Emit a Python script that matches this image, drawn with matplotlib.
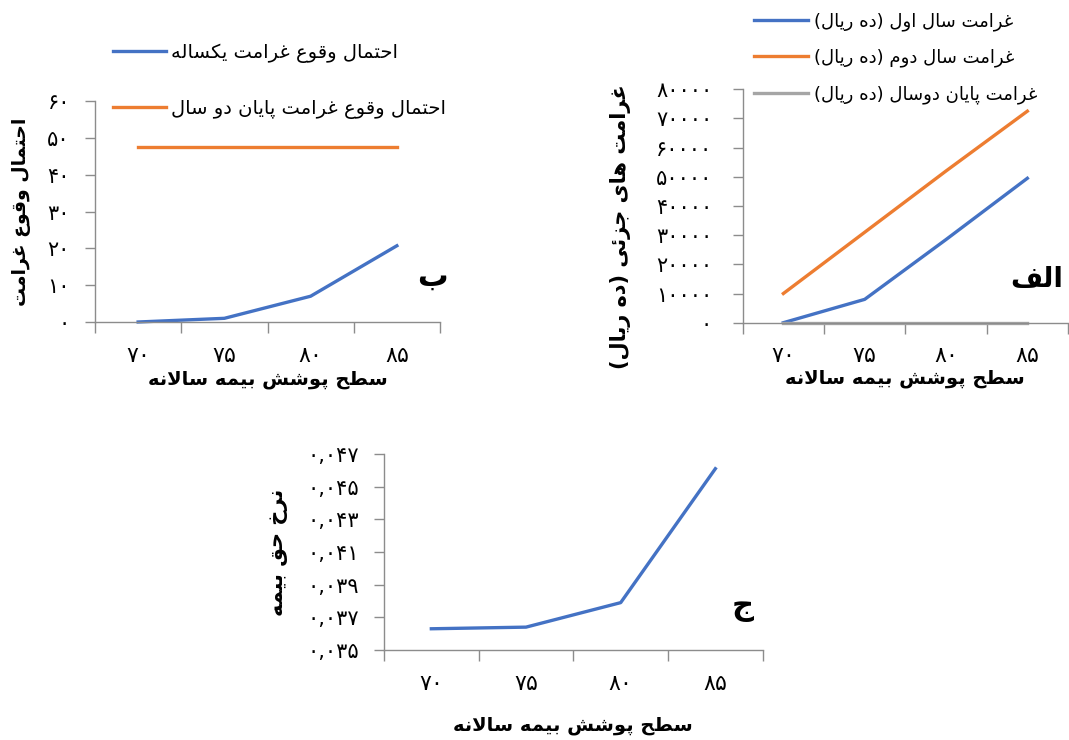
import numpy as np
import matplotlib
matplotlib.use('Agg')
from matplotlib import pyplot as plt

# data
coverage = [70, 75, 80, 85]
prob_one_year = [0.0, 1.0, 7.0, 20.7]
prob_two_year = [47.6, 47.6, 47.6, 47.6]
penalty_first = [0, 8000, 28500, 49500]
penalty_second = [10000, 31000, 52000, 72500]
penalty_end = [0, 0, 0, 0]
premium_rate = [0.0363, 0.0364, 0.0379, 0.0461]

prob_ticks = [0, 10, 20, 30, 40, 50, 60]
penalty_ticks = [0, 10000, 20000, 30000, 40000, 50000, 60000, 70000, 80000]
rate_ticks = [0.035, 0.037, 0.039, 0.041, 0.043, 0.045, 0.047]

BLUE = '#4472C4'
ORANGE = '#ED7D31'
GRAY = '#A5A5A5'
AXIS = '#8C8C8C'

plt.rcParams['font.family'] = ['DejaVu Sans']

# Arabic presentation forms: isolated, final, initial, medial
FORMS = {
    '\u0627': (0xFE8D, 0xFE8E),
    '\u0628': (0xFE8F, 0xFE90, 0xFE91, 0xFE92),
    '\u067E': (0xFB56, 0xFB57, 0xFB58, 0xFB59),
    '\u062A': (0xFE95, 0xFE96, 0xFE97, 0xFE98),
    '\u062C': (0xFE9D, 0xFE9E, 0xFE9F, 0xFEA0),
    '\u062D': (0xFEA1, 0xFEA2, 0xFEA3, 0xFEA4),
    '\u062E': (0xFEA5, 0xFEA6, 0xFEA7, 0xFEA8),
    '\u062F': (0xFEA9, 0xFEAA),
    '\u0631': (0xFEAD, 0xFEAE),
    '\u0632': (0xFEAF, 0xFEB0),
    '\u0633': (0xFEB1, 0xFEB2, 0xFEB3, 0xFEB4),
    '\u0634': (0xFEB5, 0xFEB6, 0xFEB7, 0xFEB8),
    '\u0637': (0xFEC1, 0xFEC2, 0xFEC3, 0xFEC4),
    '\u0639': (0xFEC9, 0xFECA, 0xFECB, 0xFECC),
    '\u063A': (0xFECD, 0xFECE, 0xFECF, 0xFED0),
    '\u0641': (0xFED1, 0xFED2, 0xFED3, 0xFED4),
    '\u0642': (0xFED5, 0xFED6, 0xFED7, 0xFED8),
    '\u06A9': (0xFB8E, 0xFB8F, 0xFB90, 0xFB91),
    '\u0644': (0xFEDD, 0xFEDE, 0xFEDF, 0xFEE0),
    '\u0645': (0xFEE1, 0xFEE2, 0xFEE3, 0xFEE4),
    '\u0646': (0xFEE5, 0xFEE6, 0xFEE7, 0xFEE8),
    '\u0647': (0xFEE9, 0xFEEA, 0xFEEB, 0xFEEC),
    '\u0648': (0xFEED, 0xFEEE),
    '\u06CC': (0xFBFC, 0xFBFD, 0xFBFE, 0xFBFF),
    '\u0626': (0xFE89, 0xFE8A, 0xFE8B, 0xFE8C),
}


def fa(text):
    # shape persian letters and put them in visual (right to left) order
    out = []
    prev_joins = False
    i = 0
    while i < len(text):
        ch = text[i]
        forms = FORMS.get(ch)
        if forms is None:
            out.append(ch)
            prev_joins = False
            i += 1
            continue
        if ch == '\u0644' and i + 1 < len(text) and text[i + 1] == '\u0627':
            out.append('\uFEFC' if prev_joins else '\uFEFB')
            prev_joins = False
            i += 2
            continue
        nxt = text[i + 1] if i + 1 < len(text) else ''
        joins_next = len(forms) == 4 and nxt in FORMS
        if prev_joins and joins_next:
            g = forms[3]
        elif prev_joins:
            g = forms[1]
        elif joins_next:
            g = forms[2]
        else:
            g = forms[0]
        out.append(chr(g))
        prev_joins = joins_next
        i += 1
    return ''.join(reversed(out)).translate(str.maketrans('()', ')('))


def fa_num(s):
    return str(s).translate(str.maketrans('0123456789.', '۰۱۲۳۴۵۶۷۸۹,'))


W, H = 1069, 740
fig = plt.figure(figsize=(W / 100, H / 100), dpi=100)


def px_axes(left, top, right, bottom):
    return fig.add_axes([left / W, 1 - bottom / H, (right - left) / W, (bottom - top) / H])


x = np.arange(len(coverage))
x_title = fa('سطح پوشش بیمه سالانه')


def style(ax, ylim, yticks, ylabels, ypad, ysize):
    ax.set_xlim(-0.5, len(coverage) - 0.5)
    ax.set_ylim(*ylim)
    ax.set_xticks(x)
    ax.set_xticklabels([fa_num(c) for c in coverage])
    ax.set_xticks(np.arange(-0.5, len(coverage)), minor=True)
    ax.tick_params(axis='x', which='major', length=0, pad=17, labelsize=16)
    ax.tick_params(axis='x', which='minor', length=8, width=1, color=AXIS)
    ax.set_yticks(yticks)
    ax.set_yticklabels(ylabels)
    ax.tick_params(axis='y', length=7, width=1, color=AXIS, labelsize=ysize, pad=ypad)
    for s in ['top', 'right']:
        ax.spines[s].set_visible(False)
    for s in ['left', 'bottom']:
        ax.spines[s].set_color(AXIS)
        ax.spines[s].set_linewidth(1)


# panel b (top left)
ax_b = px_axes(95, 101, 440, 322)
ax_b.plot(x, prob_one_year, color=BLUE, lw=2.4, label=fa('احتمال وقوع غرامت یکساله'), clip_on=False)
ax_b.plot(x, prob_two_year, color=ORANGE, lw=2.4, label=fa('احتمال وقوع غرامت پایان دو سال'), clip_on=False)
style(ax_b, (0, 60), prob_ticks, [fa_num(t) for t in prob_ticks], 11, 15)
ax_b.set_ylabel(fa('احتمال وقوع غرامت'), fontsize=13.5, fontweight='bold', va='center')
ax_b.yaxis.set_label_coords(-0.212, 0.5)
ax_b.set_xlabel(x_title, fontsize=14, fontweight='bold', va='center')
ax_b.xaxis.set_label_coords(0.5, -0.262)
ax_b.text(0.977, 0.204, fa('ب'), transform=ax_b.transAxes, fontsize=22,
          fontweight='bold', ha='center', va='center')
ax_b.legend(loc='upper left', bbox_to_anchor=(113 / W, 1 - 43 / H), bbox_transform=fig.transFigure,
            frameon=False, fontsize=14, handlelength=2.7, handletextpad=0.3,
            labelspacing=1.85, borderpad=0, borderaxespad=0)

# panel alef (top right)
ax_a = px_axes(742.7, 89.3, 1068, 322.7)
ax_a.plot(x, penalty_first, color=BLUE, lw=2.4, label=fa('غرامت سال اول (ده ریال)'), clip_on=False)
ax_a.plot(x, penalty_second, color=ORANGE, lw=2.4, label=fa('غرامت سال دوم (ده ریال)'), clip_on=False)
ax_a.plot(x, penalty_end, color=GRAY, lw=2.4, label=fa('غرامت پایان دوسال (ده ریال)'), clip_on=False)
style(ax_a, (0, 80000), penalty_ticks, [fa_num(t) for t in penalty_ticks], 15, 15)
ax_a.set_ylabel(fa('غرامت های جزئی (ده ریال)'), fontsize=15, fontweight='bold', va='center')
ax_a.yaxis.set_label_coords(-0.377, 0.41)
ax_a.set_xlabel(x_title, fontsize=14, fontweight='bold', va='center')
ax_a.xaxis.set_label_coords(0.5, -0.237)
ax_a.text(0.985, 0.187, fa('الف'), transform=ax_a.transAxes, fontsize=20,
          fontweight='bold', ha='right', va='center')
ax_a.legend(loc='upper left', bbox_to_anchor=(754 / W, 1 - 12 / H), bbox_transform=fig.transFigure,
            frameon=False, fontsize=13, handlelength=3.0, handletextpad=0.3,
            labelspacing=1.0, borderpad=0, borderaxespad=0)

# panel jim (bottom)
ax_c = px_axes(384, 454, 762.7, 650)
ax_c.plot(x, premium_rate, color=BLUE, lw=2.4, clip_on=False)
style(ax_c, (0.035, 0.047), rate_ticks, [fa_num('{:.3f}'.format(t)) for t in rate_ticks], 11, 15)
ax_c.set_ylabel(fa('نرخ حق بیمه'), fontsize=15, fontweight='bold', va='center')
ax_c.yaxis.set_label_coords(-0.28, 0.5)
ax_c.set_xlabel(x_title, fontsize=14, fontweight='bold', va='center')
ax_c.xaxis.set_label_coords(0.5, -0.383)
ax_c.text(0.948, 0.219, fa('ج'), transform=ax_c.transAxes, fontsize=22,
          fontweight='bold', ha='center', va='center')

fig.savefig('out.png', dpi=100)
